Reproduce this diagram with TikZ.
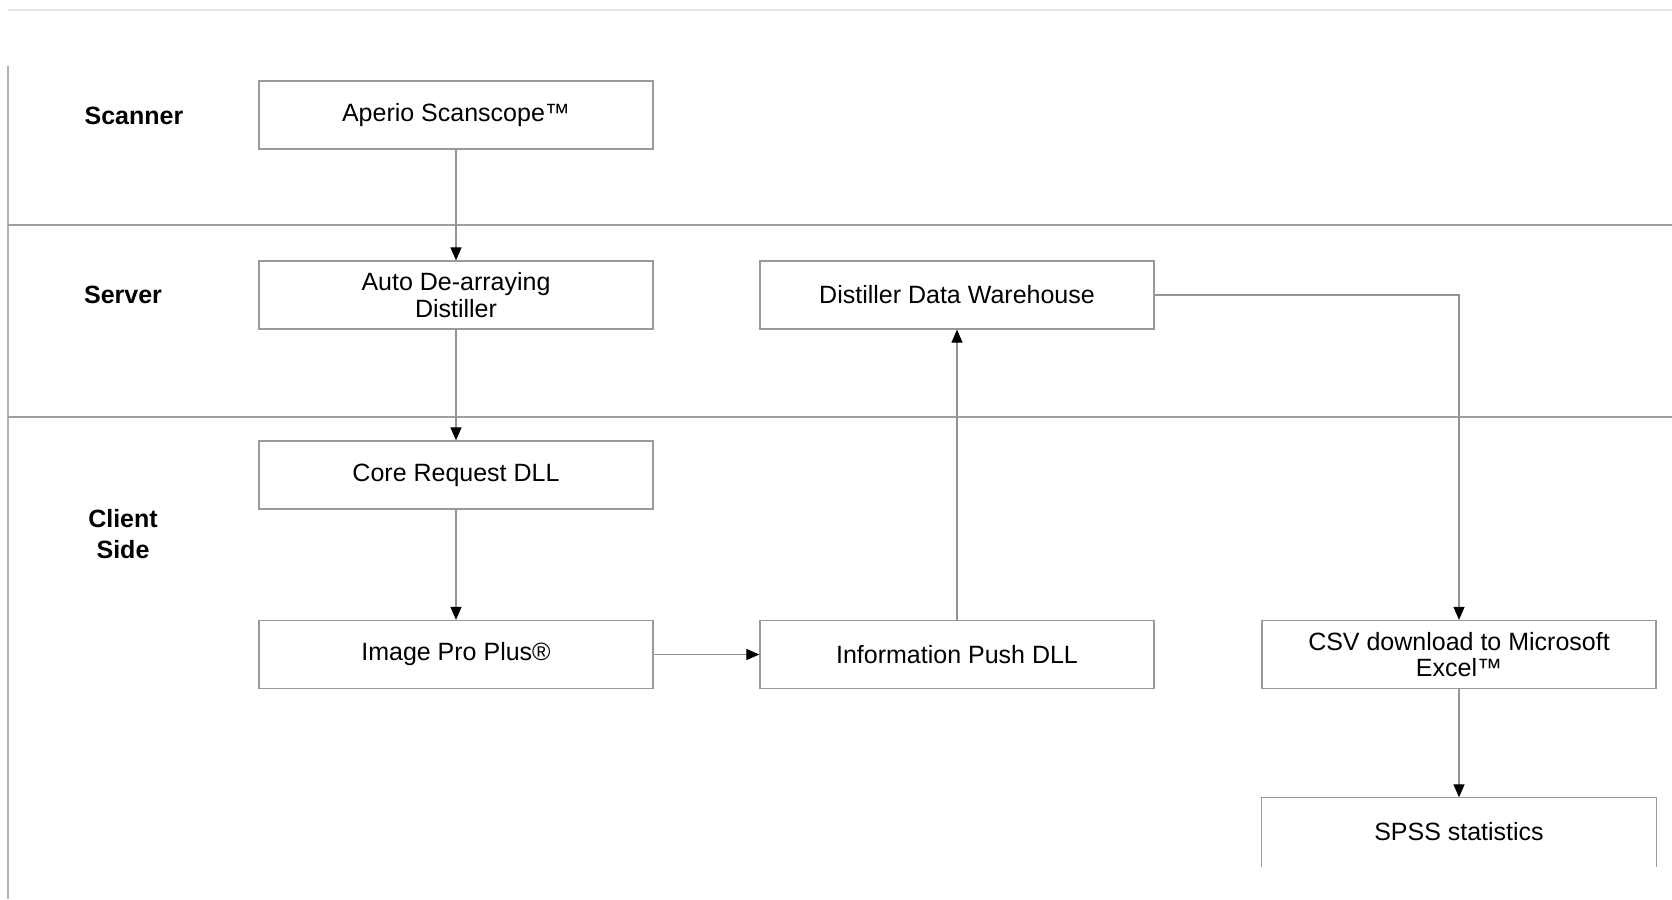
\documentclass[tikz,border=0pt]{standalone}
\usepackage{fontspec}
\setmainfont{Liberation Sans}
\usepackage{tikz}
\usetikzlibrary{arrows.meta,positioning,calc}

\begin{document}
\begin{tikzpicture}[x=1pt,y=-1pt,
        stage/.style={draw=gray!80, line width=1.3pt, minimum width=394pt, minimum height=68pt,
                      align=center, font=\fontsize{25}{26.5}\selectfont},
        lanelabel/.style={align=center, font=\fontsize{25}{31}\selectfont\bfseries},
        flow/.style={draw=gray!85, line width=1.2pt, -{Triangle[length=13pt,width=11pt,black]}}]

                % Page size
                \useasboundingbox (0,0) rectangle (1672,899);

                % Frame and lane separators
                \draw[gray!20, line width=1.2pt] (8,10) -- (1672,10);
                \draw[gray!60, line width=1.2pt] (8,66) -- (8,899);
                \draw[gray!75, line width=1.5pt] (8,225) -- (1672,225);
                \draw[gray!75, line width=1.5pt] (8,417) -- (1672,417);

                % Lane labels
                \node[lanelabel] (scanner) at (134,116) {Scanner};
                \node[lanelabel] (server)  at (123,295) {Server};
                \node[lanelabel] (client)  at (123,534) {Client\\Side};

                % Steps
                \node[stage] (scan)  at (456,115)   {Aperio Scanscope™};
                \node[stage] (auto)  at (456,295)   {Auto De-arraying\\Distiller};
                \node[stage] (core)  at (456,475)   {Core Request DLL};
                \node[stage] (ipp)   at (456,654.5) {Image Pro Plus®};
                \node[stage] (dw)    at (957,295)   {Distiller Data Warehouse};
                \node[stage] (push)  at (957,654.5) {Information Push DLL};
                \node[stage] (csv)   at (1459,654.5) {CSV download to Microsoft\\Excel™};
                \node[stage, draw=none] (spss) at (1459,832) {SPSS statistics};

                % SPSS box is open at the bottom
                \draw[gray!80, line width=1.3pt] (spss.south west) -- (spss.north west)
                    -- (spss.north east) -- (spss.south east);

                % Connectors
                \draw[flow] (scan) -- (auto);
                \draw[flow] (auto) -- (core);
                \draw[flow] (core) -- (ipp);
                \draw[flow] (ipp) -- (push);
                \draw[flow] (push) -- (dw);
                \draw[flow] (dw.east) -| (csv.north);
                \draw[flow] (csv) -- (spss);
            \end{tikzpicture}
\end{document}
